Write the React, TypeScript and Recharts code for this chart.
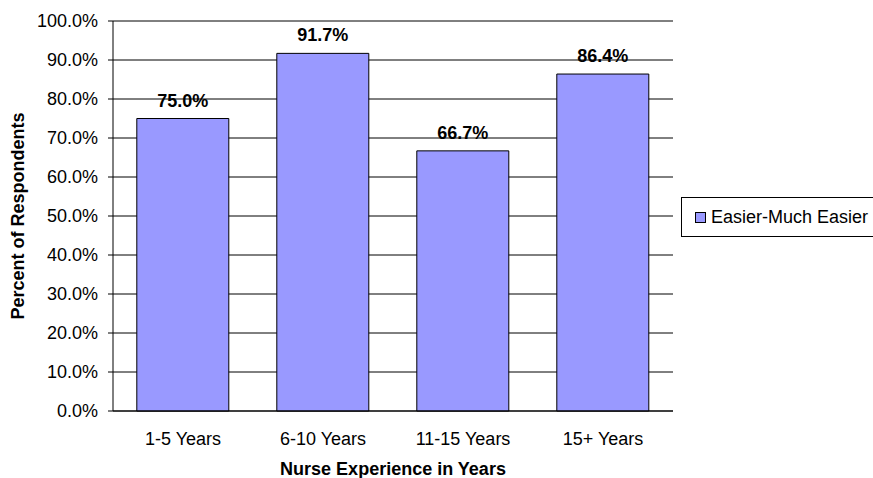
import { BarChart, Bar, XAxis, YAxis, CartesianGrid, Legend, LabelList } from "recharts";

const categories = ["1-5 Years", "6-10 Years", "11-15 Years", "15+ Years"];
const easierValues = [75.0, 91.7, 66.7, 86.4];
const yTicks = [0, 10, 20, 30, 40, 50, 60, 70, 80, 90, 100];
const edgeTicks = [0, 1, 2, 3, 4];

const seriesName = "Easier-Much Easier";
const barFill = "#9999FF";

const rows = categories.map((group, i) => ({ group, easier: easierValues[i] }));

const pct = (v: number) => `${v.toFixed(1)}%`;

function LegendBox({ payload }: any) {
  const item = payload?.[0];
  return (
    <div
      style={{
        boxSizing: "border-box",
        width: 192,
        height: 40,
        border: "1px solid #000",
        borderRight: "none",
        display: "flex",
        alignItems: "center",
        paddingLeft: 13,
        fontSize: 18,
        color: "#000",
        background: "#fff",
      }}
    >
      <span
        style={{
          display: "inline-block",
          boxSizing: "border-box",
          width: 11,
          height: 11,
          background: item?.color ?? barFill,
          border: "1px solid #000",
          marginRight: 5,
        }}
      />
      {item?.value ?? seriesName}
    </div>
  );
}

export default function App() {
  return (
    <div
      style={{
        position: "absolute",
        left: 0,
        top: 0,
        width: 873,
        height: 478,
        background: "#fff",
        fontFamily: 'Arial, "Liberation Sans", sans-serif',
      }}
    >
      <BarChart
        width={873}
        height={478}
        data={rows}
        // legend width (192) is added to the right offset by recharts
        margin={{ top: 21, right: 8, bottom: 0, left: 0 }}
        barCategoryGap="17%"
      >
        <CartesianGrid vertical={false} stroke="#000" />
        <XAxis
          xAxisId="edges"
          type="number"
          domain={[0, 4]}
          ticks={edgeTicks}
          allowDataOverflow
          height={0}
          axisLine={false}
          tickLine={{ stroke: "#000" }}
          tickSize={5}
          tickFormatter={() => ""}
        />
        <XAxis
          dataKey="group"
          height={67}
          axisLine={{ stroke: "#000" }}
          tickLine={false}
          tickSize={5}
          tickMargin={16}
          tick={{ fill: "#000", fontSize: 18 }}
          label={{
            value: "Nurse Experience in Years",
            position: "insideBottom",
            offset: 3,
            style: { fontWeight: "bold", fontSize: 18, fill: "#000" },
          }}
        />
        <YAxis
          width={113}
          domain={[0, 100]}
          ticks={yTicks}
          tickFormatter={pct}
          axisLine={{ stroke: "#000" }}
          tickLine={{ stroke: "#000" }}
          tickSize={5}
          tickMargin={10}
          tick={{ fill: "#000", fontSize: 18 }}
          label={{
            value: "Percent of Respondents",
            angle: -90,
            position: "insideLeft",
            offset: 18,
            style: { textAnchor: "middle", fontWeight: "bold", fontSize: 18, fill: "#000" },
          }}
        />
        <YAxis
          yAxisId="border"
          orientation="right"
          width={0}
          domain={[0, 100]}
          tick={false}
          tickLine={false}
          axisLine={{ stroke: "#808080" }}
        />
        <Legend
          layout="horizontal"
          verticalAlign="middle"
          align="right"
          wrapperStyle={{ left: 681, top: 197, width: 192, height: 40 }}
          content={(props: any) => <LegendBox payload={props.payload} />}
        />
        <Bar
          dataKey="easier"
          name={seriesName}
          fill={barFill}
          stroke="#000"
          strokeWidth={1}
          isAnimationActive={false}
        >
          <LabelList
            dataKey="easier"
            position="top"
            offset={12}
            formatter={(v: any) => pct(Number(v))}
            style={{ fontWeight: "bold", fontSize: 18, fill: "#000" }}
          />
        </Bar>
      </BarChart>
    </div>
  );
}
